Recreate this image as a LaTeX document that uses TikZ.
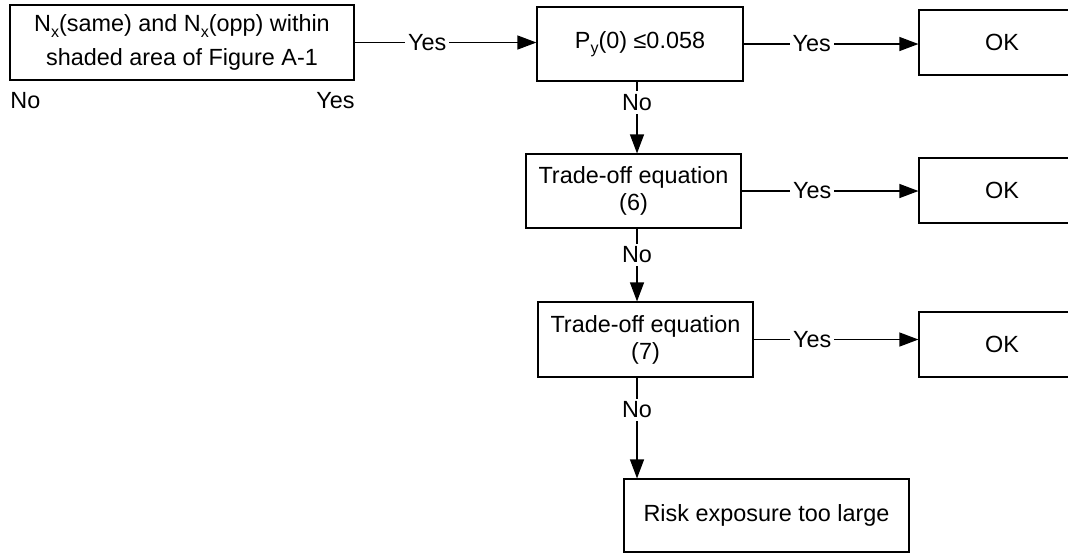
\documentclass[tikz,border=0pt]{standalone}
\usepackage{fontspec}
\setmainfont{Liberation Sans}
\usepackage{tikz}
\usetikzlibrary{arrows.meta}
\usetikzlibrary{positioning}

\newcommand{\flowfont}{\fontsize{11.7pt}{13.5pt}\selectfont}
\newcommand{\lowidx}[1]{\raisebox{-0.45ex}{\fontsize{8pt}{8pt}\selectfont #1}}

\begin{document}
\begin{tikzpicture}[%
x={(0.5pt,0pt)},
y={(0pt,-0.5pt)},
box/.style={draw=black,line width=0.6pt,inner sep=0pt,align=center,font=\flowfont},
arr/.style={line width=0.6pt,-{Triangle[length=9.5pt,width=7pt]}},
lbl/.style={fill=white,inner sep=1.5pt,font=\flowfont},
]

\useasboundingbox (0,0) rectangle (1068,554);
\clip (0,0) rectangle (1068,554);

\coordinate (col) at (637,0);

%Boxes
\node[box,minimum width=172pt,minimum height=37.5pt] (cond) at (182,42.5)
  {N\lowidx{x}(same) and N\lowidx{x}(opp) within\\[3.5pt] shaded area of Figure A-1};
\node[box,minimum width=103pt,minimum height=37pt] (pyz) at (640,44)
  {P\lowidx{y}(0) ≤0.058};
\node[box,minimum width=107.5pt,minimum height=37pt] (eqsix) at (633.5,191)
  {Trade-off equation\\(6)};
\node[box,minimum width=107.5pt,minimum height=37.5pt] (eqseven) at (645.5,339.5)
  {Trade-off equation\\(7)};
\node[box,minimum width=142.5pt,minimum height=36.5pt] (risk) at (766.5,515.5)
  {Risk exposure too large};

\node[box,minimum width=83pt,minimum height=32.5pt] (okA) at (1002,42.5) {OK};
\node[box,minimum width=83pt,minimum height=32.5pt] (okB) at (1002,190.5) {OK};
\node[box,minimum width=83pt,minimum height=32.5pt] (okC) at (1002,344.5) {OK};

%Labels
\node[anchor=base west,inner sep=0pt,font=\flowfont] (nobelow) at (10,108) {No};
\node[anchor=base east,inner sep=0pt,font=\flowfont] (yesbelow) at (355,108) {Yes};

%Arrows
\draw[arr] (cond.east) -- node[lbl,pos=0.40]{Yes} (pyz.west |- cond.east);
\draw[arr] (pyz.east) -- node[lbl,pos=0.39]{Yes} (okA.west |- pyz.east);
\draw[arr] (eqsix.east) -- node[lbl,pos=0.40]{Yes} (okB.west |- eqsix.east);
\draw[arr] (eqseven.east) -- node[lbl,pos=0.355]{Yes} (okC.west |- eqseven.east);

\draw[arr] (pyz.south -| col) -- node[lbl,pos=0.29]{No} (eqsix.north -| col);
\draw[arr] (eqsix.south -| col) -- node[lbl,pos=0.36]{No} (eqseven.north -| col);
\draw[arr] (eqseven.south -| col) -- node[lbl,pos=0.32]{No} (risk.north -| col);

\end{tikzpicture}
\end{document}
